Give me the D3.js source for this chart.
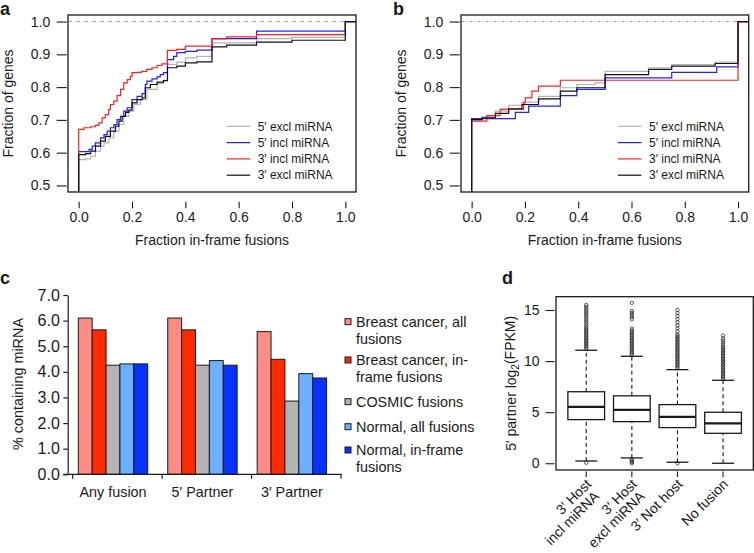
<!DOCTYPE html>
<html><head><meta charset="utf-8">
<script src="https://cdn.jsdelivr.net/npm/d3@7"></script>
<style>body{margin:0;background:#fff}svg text{font-family:"Liberation Sans",Arial,Helvetica,sans-serif;fill:#1a1a1a}</style>
</head><body>
<svg id="chart" width="754" height="553"></svg>
<script>
// ---------------- DATA ----------------
const ecdfNames = ["5′ excl miRNA", "5′ incl miRNA", "3′ incl miRNA", "3′ excl miRNA"];
const ecdfColors = ["#b3b3b3", "#2020ff", "#ff2020", "#111111"];
const xTicksAB = [0, 0.2, 0.4, 0.6, 0.8, 1.0];
const yTicksAB = [0.5, 0.6, 0.7, 0.8, 0.9, 1.0];

// panel a
const a5exclX = [0, 0.026, 0.045, 0.063, 0.082, 0.095, 0.113, 0.132, 0.151, 0.169, 0.188, 0.207, 0.232, 0.256, 0.294, 0.318, 0.333, 0.368, 0.400, 0.443, 0.500, 0.667, 0.800, 1.0];
const a5exclY = [0.579, 0.581, 0.589, 0.605, 0.620, 0.630, 0.645, 0.666, 0.686, 0.711, 0.727, 0.747, 0.762, 0.793, 0.811, 0.821, 0.869, 0.876, 0.889, 0.894, 0.935, 0.948, 0.952, 1.0];
const a5inclX = [0, 0.039, 0.051, 0.063, 0.082, 0.095, 0.107, 0.119, 0.132, 0.144, 0.157, 0.169, 0.182, 0.200, 0.219, 0.238, 0.250, 0.256, 0.275, 0.294, 0.306, 0.318, 0.333, 0.356, 0.368, 0.400, 0.443, 0.500, 0.667, 1.0];
const a5inclY = [0.603, 0.610, 0.620, 0.630, 0.645, 0.655, 0.666, 0.676, 0.686, 0.701, 0.711, 0.727, 0.737, 0.762, 0.772, 0.780, 0.808, 0.818, 0.825, 0.831, 0.838, 0.844, 0.884, 0.894, 0.905, 0.909, 0.913, 0.948, 0.971, 1.0];
const a3inclX = [0, 0.020, 0.045, 0.063, 0.076, 0.088, 0.100, 0.113, 0.119, 0.132, 0.144, 0.157, 0.169, 0.182, 0.194, 0.200, 0.219, 0.236, 0.255, 0.275, 0.294, 0.312, 0.333, 0.368, 0.400, 0.500, 0.555, 0.667, 1.0];
const a3inclY = [0.671, 0.676, 0.679, 0.683, 0.691, 0.706, 0.716, 0.732, 0.747, 0.757, 0.774, 0.793, 0.813, 0.823, 0.833, 0.844, 0.845, 0.848, 0.854, 0.859, 0.866, 0.871, 0.912, 0.915, 0.925, 0.947, 0.953, 0.960, 1.0];
const a3exclX = [0, 0.026, 0.045, 0.063, 0.082, 0.100, 0.119, 0.138, 0.151, 0.163, 0.176, 0.188, 0.200, 0.219, 0.238, 0.250, 0.269, 0.294, 0.318, 0.333, 0.368, 0.400, 0.443, 0.500, 0.555, 0.667, 0.800, 1.0];
const a3exclY = [0.594, 0.597, 0.605, 0.620, 0.635, 0.650, 0.666, 0.681, 0.696, 0.711, 0.723, 0.730, 0.752, 0.762, 0.767, 0.798, 0.808, 0.815, 0.820, 0.859, 0.864, 0.874, 0.877, 0.923, 0.928, 0.937, 0.943, 1.0];

// panel b
const b5exclX = [0, 0.039, 0.089, 0.139, 0.189, 0.251, 0.333, 0.395, 0.464, 0.501, 0.664, 0.751, 0.914, 1.0];
const b5exclY = [0.701, 0.709, 0.727, 0.744, 0.754, 0.772, 0.798, 0.808, 0.813, 0.848, 0.859, 0.869, 0.876, 1.0];
const b5inclX = [0, 0.164, 0.214, 0.333, 0.395, 0.501, 0.751, 0.920, 1.0];
const b5inclY = [0.704, 0.723, 0.742, 0.774, 0.793, 0.828, 0.845, 0.862, 1.0];
const b3inclX = [0, 0.057, 0.107, 0.195, 0.201, 0.226, 0.251, 0.333, 1.0];
const b3inclY = [0.696, 0.713, 0.732, 0.752, 0.767, 0.788, 0.803, 0.821, 1.0];
const b3exclX = [0, 0.039, 0.089, 0.139, 0.189, 0.251, 0.333, 0.395, 0.501, 0.664, 0.751, 0.914, 1.0];
const b3exclY = [0.701, 0.706, 0.720, 0.734, 0.747, 0.764, 0.788, 0.798, 0.838, 0.854, 0.864, 0.872, 1.0];

// panel c
const cCategories = ["Any fusion", "5′ Partner", "3′ Partner"];
const cSeriesNames = ["Breast cancer, all fusions", "Breast cancer, in-frame fusions", "COSMIC fusions", "Normal, all fusions", "Normal, in-frame fusions"];
const cLegendLines = [["Breast cancer, all", "fusions"], ["Breast cancer, in-", "frame fusions"], ["COSMIC fusions"], ["Normal, all fusions"], ["Normal, in-frame", "fusions"]];
const cColors = ["#ff8c85", "#ff2a00", "#b4b4b4", "#6cb0ff", "#0a32ff"];
const cBreastAll = [6.10, 6.10, 5.57];
const cBreastInframe = [5.64, 5.64, 4.49];
const cCosmic = [4.26, 4.26, 2.86];
const cNormalAll = [4.31, 4.44, 3.93];
const cNormalInframe = [4.31, 4.26, 3.76];
const cYTicks = [0, 1, 2, 3, 4, 5, 6, 7];

// panel d
const dGroups = ["3′ Host incl miRNA", "3′ Host excl miRNA", "3′ Not host", "No fusion"];
const dLabelLines = [["3′ Host", "incl miRNA"], ["3′ Host", "excl miRNA"], ["3′ Not host"], ["No fusion"]];
const dQ1 = [4.27, 4.07, 3.49, 2.93];
const dMedian = [5.51, 5.22, 4.53, 3.91];
const dQ3 = [7.00, 6.60, 5.74, 4.99];
const dWhiskerLo = [0.22, 0.52, 0.10, 0.00];
const dWhiskerHi = [11.06, 10.47, 9.16, 8.12];
const dOutliers1 = [0.05, 11.2, 11.35, 11.5, 11.65, 11.8, 11.95, 12.1, 12.25, 12.4, 12.55, 12.7, 12.85, 13.0, 13.15, 13.3, 13.5, 13.7, 13.9, 14.1, 14.3, 14.5, 14.7, 14.9, 15.1, 15.3, 15.5];
const dOutliers2 = [0.0, 0.12, 0.25, 0.38, 10.6, 10.75, 10.9, 11.05, 11.2, 11.35, 11.5, 11.65, 11.8, 11.95, 12.1, 12.25, 12.4, 12.55, 12.7, 12.85, 13.0, 13.2, 14.1, 14.3, 14.5, 14.7, 14.9, 15.7];
const dOutliers3 = [0.0, 9.3, 9.45, 9.6, 9.75, 9.9, 10.05, 10.2, 10.35, 10.5, 10.65, 10.8, 10.95, 11.1, 11.25, 11.4, 11.55, 11.7, 11.85, 12.0, 12.15, 12.3, 12.45, 12.6, 12.9, 13.2, 13.5, 13.8, 14.1, 14.4, 14.7, 15.0];
const dOutliers4 = [8.25, 8.4, 8.55, 8.7, 8.85, 9.0, 9.15, 9.3, 9.45, 9.6, 9.75, 9.9, 10.05, 10.2, 10.35, 10.5, 10.65, 10.8, 10.95, 11.1, 11.25, 11.4, 11.6, 11.8, 12.0, 12.2, 12.5];
const dYTicks = [0, 5, 10, 15];

// ---------------- DRAW ----------------
const svg = d3.select("#chart");
const INK = "#1a1a1a";

function panelLabel(txt, x, y) {
  svg.append("text").attr("x", x).attr("y", y).attr("font-size", 18).attr("font-weight", "bold").text(txt);
}

function ecdfPanel(id, fr, seriesX, seriesY, legendX) {
  const g = svg.append("g");
  const x = d3.scaleLinear().domain([-0.04, 1.04]).range([fr.x0, fr.x1]);
  const y = d3.scaleLinear().domain([0.48, 1.02]).range([fr.y1, fr.y0]);
  svg.append("clipPath").attr("id", "clip" + id).append("rect")
    .attr("x", fr.x0).attr("y", fr.y0).attr("width", fr.x1 - fr.x0).attr("height", fr.y1 - fr.y0);
  // reference line at 1.0
  g.append("line").attr("x1", fr.x0).attr("x2", fr.x1).attr("y1", y(1)).attr("y2", y(1))
    .attr("stroke", "#aaaaaa").attr("stroke-width", 1.1).attr("stroke-dasharray", "4,4");
  const line = d3.line().x(d => x(d[0])).y(d => y(d[1])).curve(d3.curveStepAfter);
  const lg = g.append("g").attr("clip-path", `url(#clip${id})`);
  seriesX.forEach((xs, i) => {
    const pts = [[-0.1, 0.3]].concat(xs.map((v, j) => [v, seriesY[i][j]])).concat([[1.1, 1.0]]);
    lg.append("path").attr("d", line(pts)).attr("fill", "none")
      .attr("stroke", ecdfColors[i]).attr("stroke-width", 1.2);
  });
  // frame
  g.append("rect").attr("x", fr.x0).attr("y", fr.y0).attr("width", fr.x1 - fr.x0).attr("height", fr.y1 - fr.y0)
    .attr("fill", "none").attr("stroke", INK).attr("stroke-width", 1.3);
  // axes
  const xa = g.append("g").attr("transform", `translate(0,${fr.y1 + 9.7})`)
    .call(d3.axisBottom(x).tickValues(xTicksAB).tickFormat(d3.format(".1f")).tickSize(6.6).tickSizeOuter(0).tickPadding(3.5));
  xa.select(".domain").remove();
  xa.selectAll("line").attr("stroke", INK).attr("stroke-width", 1.1);
  xa.selectAll("text").attr("font-size", 14).attr("fill", INK).attr("font-family", null);
  const ya = g.append("g").attr("transform", `translate(${fr.x0 - 1.3},0)`)
    .call(d3.axisLeft(y).tickValues(yTicksAB).tickFormat(d3.format(".1f")).tickSize(10).tickSizeOuter(0).tickPadding(6.5));
  ya.select(".domain").remove();
  ya.selectAll("line").attr("stroke", INK).attr("stroke-width", 1.1);
  ya.selectAll("text").attr("font-size", 14).attr("fill", INK).attr("font-family", null);
  // titles
  g.append("text").attr("x", (x(0) + x(1)) / 2).attr("y", 244.5).attr("text-anchor", "middle")
    .attr("font-size", 14).text("Fraction in-frame fusions");
  g.append("text").attr("transform", `translate(${fr.x0 - 60},${(fr.y0 + fr.y1) / 2}) rotate(-90)`)
    .attr("text-anchor", "middle").attr("dy", "0.35em").attr("font-size", 14).text("Fraction of genes");
  // legend
  ecdfNames.forEach((n, i) => {
    const yy = 126.3 + i * 16.3;
    g.append("line").attr("x1", legendX).attr("x2", legendX + 23.5).attr("y1", yy).attr("y2", yy)
      .attr("stroke", ecdfColors[i]).attr("stroke-width", 1.2);
    g.append("text").attr("x", legendX + 31).attr("y", yy).attr("dy", "0.35em").attr("font-size", 12).text(n);
  });
}

ecdfPanel("a", {x0: 68, x1: 356, y0: 15, y1: 192},
  [a5exclX, a5inclX, a3inclX, a3exclX], [a5exclY, a5inclY, a3inclY, a3exclY], 226.7);
ecdfPanel("b", {x0: 461, x1: 748.7, y0: 15, y1: 192},
  [b5exclX, b5inclX, b3inclX, b3exclX], [b5exclY, b5inclY, b3inclY, b3exclY], 618);
panelLabel("a", 0, 15);
panelLabel("b", 393, 15);

// ---------- panel c ----------
(function () {
  const g = svg.append("g");
  const cValues = [cBreastAll, cBreastInframe, cCosmic, cNormalAll, cNormalInframe];
  const x = d3.scaleBand().domain(cCategories).range([72.7, 341]).paddingInner(0).paddingOuter(0);
  const xi = d3.scaleBand().domain(d3.range(cSeriesNames.length)).range([5.6, 75]).padding(0);
  const y = d3.scaleLinear().domain([0, 7]).range([474.3, 295]);
  cCategories.forEach((c, ci) => {
    cValues.forEach((vals, si) => {
      g.append("rect").attr("x", x(c) + xi(si)).attr("y", y(vals[ci]))
        .attr("width", xi.bandwidth()).attr("height", y(0) - y(vals[ci]))
        .attr("fill", cColors[si]).attr("stroke", INK).attr("stroke-width", 1);
    });
    g.append("text").attr("x", x(c) + (5.6 + 75) / 2).attr("y", 496.5).attr("text-anchor", "middle")
      .attr("font-size", 14.4).text(c);
  });
  // x axis line and ticks
  g.append("line").attr("x1", 63.3).attr("x2", x.range()[1] + 0.7).attr("y1", y(0)).attr("y2", y(0))
    .attr("stroke", INK).attr("stroke-width", 1.2);
  cCategories.map(c => x(c)).concat([x.range()[1]]).forEach(t => {
    g.append("line").attr("x1", t).attr("x2", t).attr("y1", y(0)).attr("y2", y(0) + 4.5)
      .attr("stroke", INK).attr("stroke-width", 1.2);
  });
  const ya = g.append("g").attr("transform", "translate(67.7,0)")
    .call(d3.axisLeft(y).tickValues(cYTicks).tickFormat(d3.format(".1f")).tickSize(4.4).tickSizeOuter(0).tickPadding(3.5));
  ya.select(".domain").attr("stroke", INK).attr("stroke-width", 1.2);
  ya.selectAll("line").attr("stroke", INK).attr("stroke-width", 1.2);
  ya.selectAll("text").attr("font-size", 16).attr("fill", INK).attr("font-family", null);
  g.append("text").attr("transform", "translate(18,384) rotate(-90)").attr("text-anchor", "middle")
    .attr("dy", "0.35em").attr("font-size", 14.4).text("% containing miRNA");
  // legend
  const rowY = [[321.7, 338.7], [360, 377], [401.7], [426.7], [450, 467.3]];
  cLegendLines.forEach((lines, i) => {
    g.append("rect").attr("x", 345).attr("y", rowY[i][0] - 3).attr("width", 6).attr("height", 6)
      .attr("fill", cColors[i]).attr("stroke", INK).attr("stroke-width", 1);
    lines.forEach((t, k) => {
      g.append("text").attr("x", 356).attr("y", rowY[i][k]).attr("dy", "0.35em").attr("font-size", 14.4).text(t);
    });
  });
})();
panelLabel("c", 0, 284);

// ---------- panel d ----------
(function () {
  const g = svg.append("g");
  const fr = {x0: 556, x1: 753.3, y0: 296.7, y1: 470};
  const x = d3.scalePoint().domain(dGroups).range([fr.x0, fr.x1]).padding(0.663);
  const y = d3.scaleLinear().domain([-0.66, 16.3]).range([fr.y1, fr.y0]);
  const outs = [dOutliers1, dOutliers2, dOutliers3, dOutliers4];
  const bw = 36.7, cw = 22;
  dGroups.forEach((grp, i) => {
    const cx = x(grp);
    // whiskers
    [[dQ3[i], dWhiskerHi[i]], [dWhiskerLo[i], dQ1[i]]].forEach(([a, b]) => {
      g.append("line").attr("x1", cx).attr("x2", cx).attr("y1", y(a)).attr("y2", y(b))
        .attr("stroke", INK).attr("stroke-width", 1.1).attr("stroke-dasharray", "4,3");
    });
    [dWhiskerHi[i], dWhiskerLo[i]].forEach(v => {
      g.append("line").attr("x1", cx - cw / 2).attr("x2", cx + cw / 2).attr("y1", y(v)).attr("y2", y(v))
        .attr("stroke", INK).attr("stroke-width", 1.3);
    });
    g.append("rect").attr("x", cx - bw / 2).attr("y", y(dQ3[i])).attr("width", bw)
      .attr("height", y(dQ1[i]) - y(dQ3[i])).attr("fill", "#fff").attr("stroke", INK).attr("stroke-width", 1.3);
    g.append("line").attr("x1", cx - bw / 2).attr("x2", cx + bw / 2).attr("y1", y(dMedian[i])).attr("y2", y(dMedian[i]))
      .attr("stroke", INK).attr("stroke-width", 2.2);
    outs[i].forEach(v => {
      g.append("circle").attr("cx", cx).attr("cy", y(v)).attr("r", 1.7)
        .attr("fill", "none").attr("stroke", INK).attr("stroke-width", 0.7);
    });
    // x tick
    g.append("line").attr("x1", cx).attr("x2", cx).attr("y1", fr.y1 + 1.5).attr("y2", fr.y1 + 7)
      .attr("stroke", INK).attr("stroke-width", 1.1);
    const t = g.append("text").attr("transform", `translate(${cx + 6},${fr.y1 + 15}) rotate(-45)`)
      .attr("text-anchor", "end").attr("font-size", 14);
    dLabelLines[i].forEach((s, k) => {
      t.append("tspan").attr("x", k === 0 ? 0 : -3).attr("dy", k === 0 ? 0 : "1.0em").text(s);
    });
  });
  g.append("rect").attr("x", fr.x0).attr("y", fr.y0).attr("width", fr.x1 - fr.x0).attr("height", fr.y1 - fr.y0)
    .attr("fill", "none").attr("stroke", INK).attr("stroke-width", 1.3);
  const ya = g.append("g").attr("transform", `translate(${fr.x0 - 1.5},0)`)
    .call(d3.axisLeft(y).tickValues(dYTicks).tickSize(9).tickSizeOuter(0).tickPadding(6));
  ya.select(".domain").remove();
  ya.selectAll("line").attr("stroke", INK).attr("stroke-width", 1.1);
  ya.selectAll("text").attr("font-size", 14).attr("fill", INK).attr("font-family", null);
  const yl = g.append("text").attr("transform", `translate(511,${(fr.y0 + fr.y1) / 2}) rotate(-90)`)
    .attr("text-anchor", "middle").attr("dy", "0.35em").attr("font-size", 14);
  yl.append("tspan").text("5′ partner log");
  yl.append("tspan").attr("font-size", 10).attr("dy", "0.35em").text("2");
  yl.append("tspan").attr("dy", "-0.35em").text("(FPKM)");
})();
panelLabel("d", 502, 284);
</script>
</body></html>
